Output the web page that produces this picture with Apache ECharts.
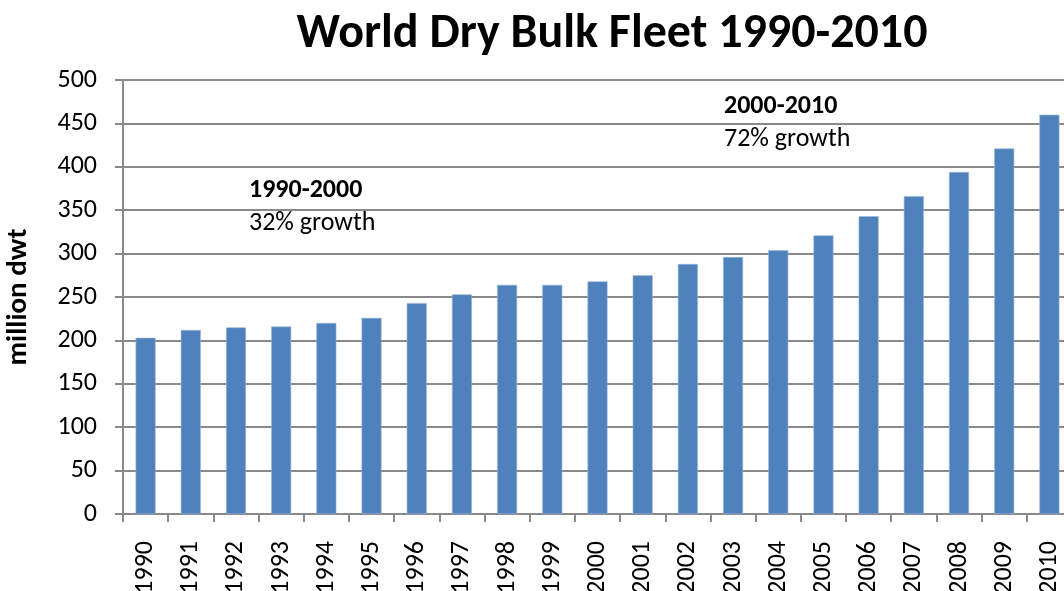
<!DOCTYPE html>
<html>
<head>
<meta charset="utf-8">
<script src="https://cdn.jsdelivr.net/npm/echarts@6/dist/echarts.min.js"></script>
<style>html,body{margin:0;padding:0;background:#fff;}#c{width:1064px;height:591px;}</style>
</head>
<body>
<div id="c"></div>
<script>
const years = ['1990','1991','1992','1993','1994','1995','1996','1997','1998','1999','2000','2001','2002','2003','2004','2005','2006','2007','2008','2009','2010'];
const fleet = [203, 212, 215, 216, 220, 226, 243, 253, 264, 264, 268, 275, 288, 296, 304, 321, 343, 366, 394, 421, 460];
const yTicks = {min: 0, max: 500, interval: 50};
const titleText = 'World Dry Bulk Fleet 1990-2010';
const yName = 'million dwt';
const notes = [
  {period: '1990-2000', growth: '32% growth'},
  {period: '2000-2010', growth: '72% growth'}
];

const FONT = 'Carlito, Lato, "Open Sans", sans-serif';
const chart = echarts.init(document.getElementById('c'), null, {renderer: 'canvas'});
chart.setOption({
  animation: false,
  backgroundColor: '#fff',
  title: {
    text: titleText, left: 607, top: 6, textAlign: 'center',
    textStyle: {fontFamily: FONT, fontSize: 48, fontWeight: 'bold', color: '#000'}
  },
  grid: {left: 123, top: 80, width: 949, height: 434, containLabel: false, outerBoundsMode: 'none'},
  xAxis: {
    type: 'category', data: years,
    axisLine: {lineStyle: {color: '#898989', width: 2}},
    axisTick: {show: true, length: 8, alignWithLabel: false, lineStyle: {color: '#898989', width: 2}},
    axisLabel: {rotate: 90, margin: 27, fontFamily: FONT, fontSize: 26, color: '#000', interval: 0, hideOverlap: false}
  },
  yAxis: {
    type: 'value', min: yTicks.min, max: yTicks.max, interval: yTicks.interval,
    name: yName, nameLocation: 'middle', nameRotate: 90, nameGap: 90,
    nameTextStyle: {fontFamily: FONT, fontSize: 29, fontWeight: 'bold', color: '#000'},
    axisLine: {show: true, lineStyle: {color: '#898989', width: 2}},
    axisTick: {show: true, length: 8, lineStyle: {color: '#898989', width: 2}},
    axisLabel: {margin: 26, fontFamily: FONT, fontSize: 26, color: '#000'},
    splitLine: {show: true, lineStyle: {color: '#898989', width: 2}}
  },
  series: [{
    type: 'bar', data: fleet, barWidth: 20,
    itemStyle: {color: '#4F81BD', borderColor: '#9BB5DA', borderWidth: 0.6}
  }],
  graphic: [
    {type: 'text', left: 249, top: 177, style: {text: notes[0].period, fontFamily: FONT, fontSize: 26, fontWeight: 'bold', fill: '#000'}},
    {type: 'text', left: 249, top: 210, style: {text: notes[0].growth, fontFamily: FONT, fontSize: 26, fill: '#000'}},
    {type: 'text', left: 724, top: 93, style: {text: notes[1].period, fontFamily: FONT, fontSize: 26, fontWeight: 'bold', fill: '#000'}},
    {type: 'text', left: 724, top: 126, style: {text: notes[1].growth, fontFamily: FONT, fontSize: 26, fill: '#000'}}
  ]
});
</script>
</body>
</html>
